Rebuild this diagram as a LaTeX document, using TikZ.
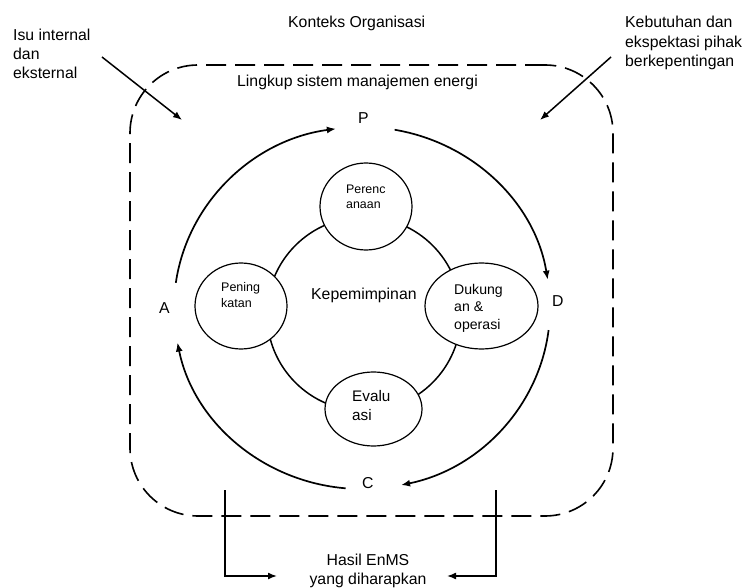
\documentclass[tikz,border=0pt]{standalone}
\usepackage{fontspec}
\setmainfont{Liberation Sans}
\usetikzlibrary{arrows.meta,calc,shapes.geometric}
\begin{document}
\begin{tikzpicture}[x=1pt,y=1pt,yscale=-1,
  txt/.style={inner sep=0pt, align=left, font=\fontsize{15.8}{19}\selectfont, anchor=base west},
  arrtip/.style={-{Latex[length=9pt,width=7pt]}},
  arr/.style={line width=1.5pt, arrtip},
  cyc/.style={line width=1.7pt, arrtip},
  bub/.style={ellipse, draw, line width=1.2pt, fill=white, inner sep=0pt},
  frame/.style={draw, line width=1.6pt, dash pattern=on 20pt off 9pt, rounded corners=68pt, inner sep=0pt}
]
\useasboundingbox (0,0) rectangle (744,588);

% dashed scope frame
\node[frame, minimum width=483pt, minimum height=451pt] (lingkupbox) at (371.5,290.5) {};

% top labels (multi-line nodes: base = last line)
\node[txt] (konteks) at (288,28) {Konteks Organisasi};
\node[txt] (isu) at (13,79) {Isu internal\\dan\\eksternal};
\node[txt, font=\fontsize{15.8}{19.5}\selectfont] (kebutuhan) at (625,67) {Kebutuhan dan\\ekspektasi pihak\\berkepentingan};
\node[txt] (lingkup) at (237,87) {Lingkup sistem manajemen energi};

% input arrows
\coordinate (isuS) at (102,57);
\coordinate (isuE) at (182,120);
\coordinate (kebS) at (611,57);
\coordinate (kebE) at (540,120);
\draw[arr] (isuS) -- (isuE);
\draw[arr] (kebS) -- (kebE);

% PDCA labels
\node[txt] (P) at (358,124) {P};
\node[txt] (D) at (552,306) {D};
\node[txt] (C) at (362,488) {C};
\node[txt] (A) at (159,313) {A};

% outer cycle arcs
\coordinate (O) at (362,308);
\draw[cyc] ($(O)+(188:188 and 181)$) arc[start angle=188, end angle=262, x radius=188, y radius=181];
\draw[cyc] ($(O)+(280:188 and 181)$) arc[start angle=280, end angle=351, x radius=188, y radius=181];
\draw[cyc] ($(O)+(7:188 and 181)$) arc[start angle=7, end angle=78, x radius=188, y radius=181];
\draw[cyc] ($(O)+(95:188 and 181)$) arc[start angle=95, end angle=169, x radius=188, y radius=181];

% inner ring
\node[circle, draw, line width=1.5pt, minimum size=194pt, inner sep=0pt] (ring) at (364,314) {};
\node[txt] (lead) at (311,299) {Kepemimpinan};

% bubbles
\node[bub, minimum width=92pt, minimum height=87pt] (plan) at (366,206.5) {};
\node[bub, minimum width=92pt, minimum height=86pt] (impr) at (241,306) {};
\node[bub, minimum width=113pt, minimum height=86pt] (supp) at (481.5,306) {};
\node[bub, minimum width=97pt, minimum height=74pt] (eval) at (373.5,409) {};

\node[txt, font=\fontsize{12.4}{15}\selectfont] (plant) at (346,208) {Perenc\\anaan};
\node[txt, font=\fontsize{12.5}{15.5}\selectfont] (imprt) at (221,307) {Pening\\katan};
\node[txt, font=\fontsize{14.1}{17.5}\selectfont] (suppt) at (454,329) {Dukung\\an \&\\operasi};
\node[txt, font=\fontsize{15.3}{19}\selectfont] (evalt) at (352,420) {Evalu\\asi};

% outcome
\node[txt, align=center, anchor=base] (hasil) at (368,584) {Hasil EnMS\\yang diharapkan};
\coordinate (hlS) at (225,490);
\coordinate (hlE) at (277,576);
\coordinate (hrS) at (496,490);
\coordinate (hrE) at (447,576);
\draw[arr] (hlS) |- (hlE);
\draw[arr] (hrS) |- (hrE);
\end{tikzpicture}
\end{document}
